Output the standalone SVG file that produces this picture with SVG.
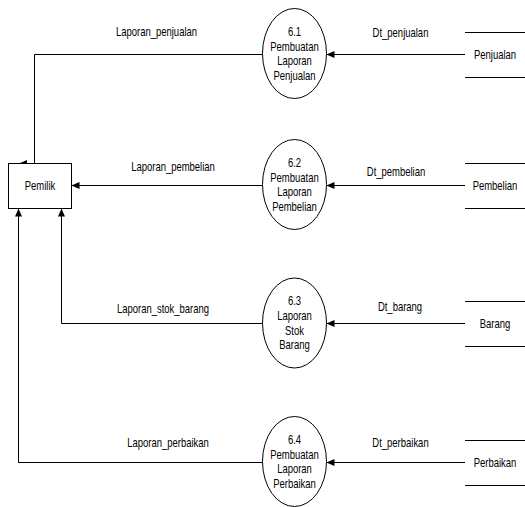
<svg xmlns="http://www.w3.org/2000/svg" width="525" height="507" viewBox="0 0 525 507">
  <style>
    text { font-family: "Liberation Sans", Arial, sans-serif; font-size: 12px; fill: #000; text-anchor: middle; }
    .flow { fill: none; stroke: #000; stroke-width: 1; marker-end: url(#arrow); }
    .box { fill: #fff; stroke: #000; stroke-width: 1; }
    .store { stroke: #000; stroke-width: 1; }
  </style>
  <defs>
    <marker id="arrow" viewBox="0 0 8 8" refX="8" refY="4" markerWidth="8" markerHeight="8" markerUnits="userSpaceOnUse" orient="auto">
      <path d="M0,0.5 L8,4 L0,7.5 Z" fill="#000"/>
    </marker>
  </defs>
  <rect width="525" height="507" fill="#fff"/>

  <!-- data flows; labels are set in a condensed face via horizontal scaling -->
  <g id="connectors">
    <path class="flow" d="M262.5,54.5 H34.5 V163.5 H19"/>
    <path class="flow" d="M262.5,185.5 H71.5"/>
    <path class="flow" d="M262.5,323.5 H61.5 V208.5"/>
    <path class="flow" d="M262.5,462.5 H18.5 V208.5"/>
    <path class="flow" d="M465,54.5 H326.5"/>
    <path class="flow" d="M465,185.5 H326.5"/>
    <path class="flow" d="M465,323.5 H326.5"/>
    <path class="flow" d="M465,462.5 H326.5"/>
    <text transform="translate(156.5,36) scale(0.79,1)">Laporan_penjualan</text>
    <text transform="translate(173,171) scale(0.79,1)">Laporan_pembelian</text>
    <text transform="translate(163,313) scale(0.79,1)">Laporan_stok_barang</text>
    <text transform="translate(168,447) scale(0.79,1)">Laporan_perbaikan</text>
    <text transform="translate(400.5,37) scale(0.79,1)">Dt_penjualan</text>
    <text transform="translate(396,176) scale(0.79,1)">Dt_pembelian</text>
    <text transform="translate(400,311) scale(0.79,1)">Dt_barang</text>
    <text transform="translate(400.5,447) scale(0.79,1)">Dt_perbaikan</text>
  </g>

  <!-- external entity -->
  <g id="pemilik">
    <rect class="box" x="8.5" y="163.5" width="63" height="45"/>
    <text transform="translate(40,190) scale(0.79,1)">Pemilik</text>
  </g>

  <!-- processes -->
  <g id="p61">
    <ellipse class="box" cx="294.5" cy="53.5" rx="32" ry="45"/>
    <text transform="translate(294.5,35.5) scale(0.79,1)">6.1</text>
    <text transform="translate(294.5,50.5) scale(0.79,1)">Pembuatan</text>
    <text transform="translate(294.5,65) scale(0.79,1)">Laporan</text>
    <text transform="translate(294.5,79.5) scale(0.79,1)">Penjualan</text>
  </g>
  <g id="p62">
    <ellipse class="box" cx="294.5" cy="184.5" rx="32" ry="45"/>
    <text transform="translate(294.5,166.5) scale(0.79,1)">6.2</text>
    <text transform="translate(294.5,181.5) scale(0.79,1)">Pembuatan</text>
    <text transform="translate(294.5,196) scale(0.79,1)">Laporan</text>
    <text transform="translate(294.5,210.5) scale(0.79,1)">Pembelian</text>
  </g>
  <g id="p63">
    <ellipse class="box" cx="294.5" cy="323" rx="32" ry="45"/>
    <text transform="translate(294.5,305) scale(0.79,1)">6.3</text>
    <text transform="translate(294.5,320) scale(0.79,1)">Laporan</text>
    <text transform="translate(294.5,334.5) scale(0.79,1)">Stok</text>
    <text transform="translate(294.5,349) scale(0.79,1)">Barang</text>
  </g>
  <g id="p64">
    <ellipse class="box" cx="294.5" cy="461.5" rx="32" ry="45"/>
    <text transform="translate(294.5,443.5) scale(0.79,1)">6.4</text>
    <text transform="translate(294.5,458.5) scale(0.79,1)">Pembuatan</text>
    <text transform="translate(294.5,473) scale(0.79,1)">Laporan</text>
    <text transform="translate(294.5,487.5) scale(0.79,1)">Perbaikan</text>
  </g>

  <!-- data stores -->
  <g id="ds-penjualan">
    <line class="store" x1="465" y1="32.5" x2="525" y2="32.5"/>
    <line class="store" x1="465" y1="77.5" x2="525" y2="77.5"/>
    <text transform="translate(495,58.5) scale(0.79,1)">Penjualan</text>
  </g>
  <g id="ds-pembelian">
    <line class="store" x1="465" y1="163.5" x2="525" y2="163.5"/>
    <line class="store" x1="465" y1="208.5" x2="525" y2="208.5"/>
    <text transform="translate(495,189.5) scale(0.79,1)">Pembelian</text>
  </g>
  <g id="ds-barang">
    <line class="store" x1="465" y1="301.5" x2="525" y2="301.5"/>
    <line class="store" x1="465" y1="346.5" x2="525" y2="346.5"/>
    <text transform="translate(495,327.5) scale(0.79,1)">Barang</text>
  </g>
  <g id="ds-perbaikan">
    <line class="store" x1="465" y1="440.5" x2="525" y2="440.5"/>
    <line class="store" x1="465" y1="485.5" x2="525" y2="485.5"/>
    <text transform="translate(495,466.5) scale(0.79,1)">Perbaikan</text>
  </g>
</svg>
